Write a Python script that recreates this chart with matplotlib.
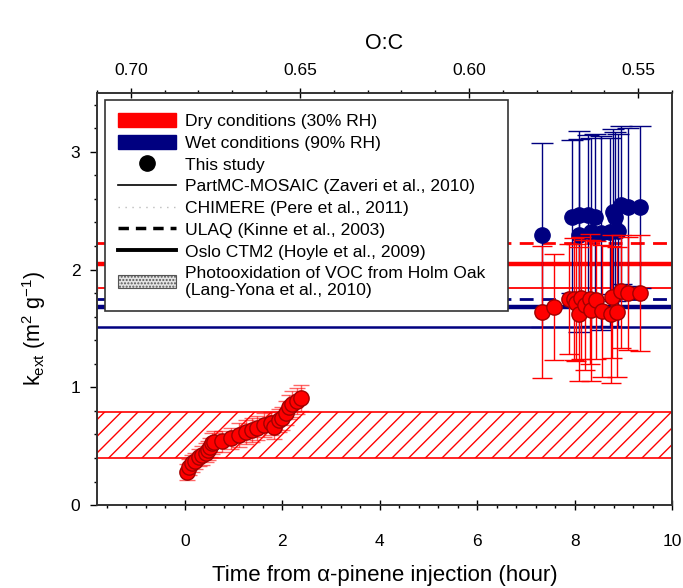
import matplotlib
matplotlib.use('Agg')
import matplotlib.pyplot as plt
from matplotlib.lines import Line2D
from matplotlib.patches import Patch
from matplotlib.ticker import MultipleLocator, FixedLocator

plt.rcParams['font.family'] = ['Liberation Sans', 'DejaVu Sans']
plt.rcParams['mathtext.fontset'] = 'custom'
plt.rcParams['mathtext.rm'] = 'Liberation Sans'
plt.rcParams['mathtext.it'] = 'Liberation Sans:italic'
plt.rcParams['hatch.linewidth'] = 1.0

# ---------------- data ----------------
early_time = [0.05, 0.08, 0.15, 0.22, 0.29, 0.36, 0.43, 0.47, 0.51, 0.56, 0.60,
              0.77, 0.94, 1.11, 1.25, 1.39, 1.49, 1.63, 1.77, 1.83, 1.94, 2.00,
              2.07, 2.14, 2.20, 2.31, 2.39]
early_kext = [0.283, 0.325, 0.354, 0.376, 0.405, 0.424, 0.444, 0.467, 0.49, 0.524, 0.537,
              0.543, 0.566, 0.594, 0.622, 0.637, 0.656, 0.679, 0.693, 0.665, 0.72, 0.736,
              0.78, 0.834, 0.86, 0.885, 0.91]
early_err = [0.07, 0.07, 0.07, 0.07, 0.07, 0.08, 0.08, 0.08, 0.08, 0.09, 0.09,
             0.09, 0.09, 0.10, 0.10, 0.10, 0.10, 0.10, 0.10, 0.10, 0.10, 0.10,
             0.10, 0.10, 0.11, 0.11, 0.11]

dry_time = [7.34, 7.57, 7.89, 7.99, 8.03, 8.10, 8.14, 8.22, 8.31, 8.33, 8.43,
            8.57, 8.75, 8.77, 8.88, 8.95, 9.10, 9.34]
dry_kext = [1.636, 1.684, 1.75, 1.75, 1.72, 1.62, 1.76, 1.70, 1.75, 1.655, 1.74,
            1.65, 1.62, 1.77, 1.64, 1.815, 1.80, 1.80]
dry_err = [0.56, 0.45, 0.47, 0.52, 0.50, 0.57, 0.52, 0.55, 0.55, 0.60, 0.50,
           0.56, 0.58, 0.52, 0.55, 0.48, 0.48, 0.49]

wet_time = [7.34, 7.94, 8.10, 8.10, 8.27, 8.34, 8.41, 8.55, 8.72, 8.79, 8.82,
            8.89, 8.96, 9.10, 9.34]
wet_kext = [2.295, 2.447, 2.29, 2.46, 2.46, 2.32, 2.45, 2.31, 2.32, 2.49, 2.45,
            2.33, 2.55, 2.53, 2.53]
wet_err = [0.78, 0.65, 0.82, 0.72, 0.68, 0.80, 0.70, 0.82, 0.80, 0.70, 0.72,
           0.82, 0.67, 0.67, 0.69]

# model reference values (m2 g-1)
dry_ulaq, dry_oslo, dry_partmc, dry_chimere = 2.225, 2.05, 1.845, 1.845
wet_ulaq, wet_oslo, wet_partmc = 1.75, 1.68, 1.51
holm_oak_low, holm_oak_high = 0.40, 0.79

time_limits = (-1.8, 10)
oc_limits = (0.710, 0.540)
oc_ticks = [0.70, 0.65, 0.60, 0.55]
oc_ticklabels = ['0.70', '0.65', '0.60', '0.55']

RED = '#ff0000'
NAVY = '#000080'

fig = plt.figure(figsize=(6.83, 5.88), dpi=100)
ax = fig.add_axes([0.142, 0.141, 0.842, 0.701])

# hatched band
ax.axhspan(holm_oak_low, holm_oak_high, facecolor='none', edgecolor=RED,
           hatch='//', linewidth=1.2, zorder=1)

# model lines
ax.axhline(dry_ulaq, color=RED, lw=2.0, ls=(0, (5, 3)), zorder=2)
ax.axhline(dry_oslo, color=RED, lw=3.2, zorder=2)
ax.axhline(dry_partmc, color=RED, lw=1.3, zorder=2)
ax.plot([time_limits[0], time_limits[1]], [dry_chimere, dry_chimere], color='#ff8080',
        lw=0, marker='|', markersize=4, markevery=1, zorder=2)
ax.axhline(wet_ulaq, color=NAVY, lw=2.0, ls=(0, (5, 3)), zorder=2)
ax.axhline(wet_oslo, color=NAVY, lw=3.2, zorder=2)
ax.axhline(wet_partmc, color=NAVY, lw=1.8, zorder=2)

# data
ax.errorbar(wet_time, wet_kext, yerr=wet_err, fmt='o', color=NAVY, mfc=NAVY, mec=NAVY,
            ms=11, ecolor=NAVY, elinewidth=1.0, capsize=8, capthick=1.0, zorder=3)
ax.errorbar(dry_time, dry_kext, yerr=dry_err, fmt='o', color=RED, mfc=RED, mec='#a00000',
            ms=11, ecolor=RED, elinewidth=1.0, capsize=7, capthick=1.0, zorder=4)
ax.errorbar(early_time, early_kext, yerr=early_err, fmt='o', color=RED, mfc=RED,
            mec='#a00000', ms=11, ecolor=(1, 0, 0, 0.6), elinewidth=1.0, capsize=6,
            capthick=1.0, zorder=4)

ax.set_xlim(*time_limits)
ax.set_ylim(0, 3.5)
ax.xaxis.set_major_locator(FixedLocator([0, 2, 4, 6, 8, 10]))
ax.xaxis.set_minor_locator(MultipleLocator(0.4))
ax.yaxis.set_major_locator(MultipleLocator(1))
ax.yaxis.set_minor_locator(MultipleLocator(0.2))
ax.tick_params(axis='x', which='major', direction='inout', length=7, width=1.0,
               labelsize=12.5, pad=17, top=False)
ax.tick_params(axis='x', which='minor', direction='out', length=2.5, width=1.0, top=False)
ax.tick_params(axis='y', which='major', direction='out', length=5, width=1.0,
               labelsize=12.5, pad=7, right=False)
ax.tick_params(axis='y', which='minor', direction='out', length=2.5, width=1.0, right=False)
for s in ax.spines.values():
    s.set_linewidth(1.2)
    s.set_color('#333333')

ax.set_xlabel('Time from α-pinene injection (hour)', fontsize=16, labelpad=12)
ax.set_ylabel(r'k$_{\rm ext}$ (m$^{2}$ g$^{-1}$)', fontsize=15.5)
ax.yaxis.set_label_coords(-0.085, 0.43)

ax2 = ax.twiny()
ax2.set_xlim(*oc_limits)
ax2.xaxis.set_major_locator(FixedLocator(oc_ticks))
ax2.set_xticklabels(oc_ticklabels)
ax2.xaxis.set_minor_locator(MultipleLocator(0.01))
ax2.tick_params(axis='x', which='major', direction='inout', length=7, width=1.0,
                labelsize=12.5, pad=7)
ax2.tick_params(axis='x', which='minor', direction='out', length=2.5, width=1.0)
ax2.set_xlabel('O:C', fontsize=15.5, labelpad=10)
for s in ax2.spines.values():
    s.set_linewidth(1.2)
    s.set_color('#333333')

handles = [
    Patch(facecolor=RED, edgecolor=RED),
    Patch(facecolor=NAVY, edgecolor=NAVY),
    Line2D([], [], ls='none', marker='o', color='black', ms=11),
    Line2D([], [], color='black', lw=1.2),
    Line2D([], [], color='#bbbbbb', lw=1.0, ls=(0, (1, 4))),
    Line2D([], [], color='black', lw=2.5, ls=(0, (3, 2))),
    Line2D([], [], color='black', lw=2.8),
    Patch(facecolor='#e4e4e4', edgecolor='#555555', hatch='.....', lw=0.8),
]
labels = ['Dry conditions (30% RH)', 'Wet conditions (90% RH)', 'This study',
          'PartMC-MOSAIC (Zaveri et al., 2010)', 'CHIMERE (Pere et al., 2011)',
          'ULAQ (Kinne et al., 2003)', 'Oslo CTM2 (Hoyle et al., 2009)',
          'Photooxidation of VOC from Holm Oak  \n(Lang-Yona et al., 2010)']
leg = ax2.legend(handles, labels, loc='upper left', bbox_to_anchor=(0.0136, 0.982),
                 borderaxespad=0, fontsize=12.6, frameon=True, fancybox=False,
                 edgecolor='#333333', framealpha=1, handlelength=3.3,
                 handleheight=0.8, handletextpad=0.55, labelspacing=0.34,
                 borderpad=0.75)
leg.get_frame().set_linewidth(1.2)
leg.set_zorder(10)

fig.savefig('out.png', dpi=100)
